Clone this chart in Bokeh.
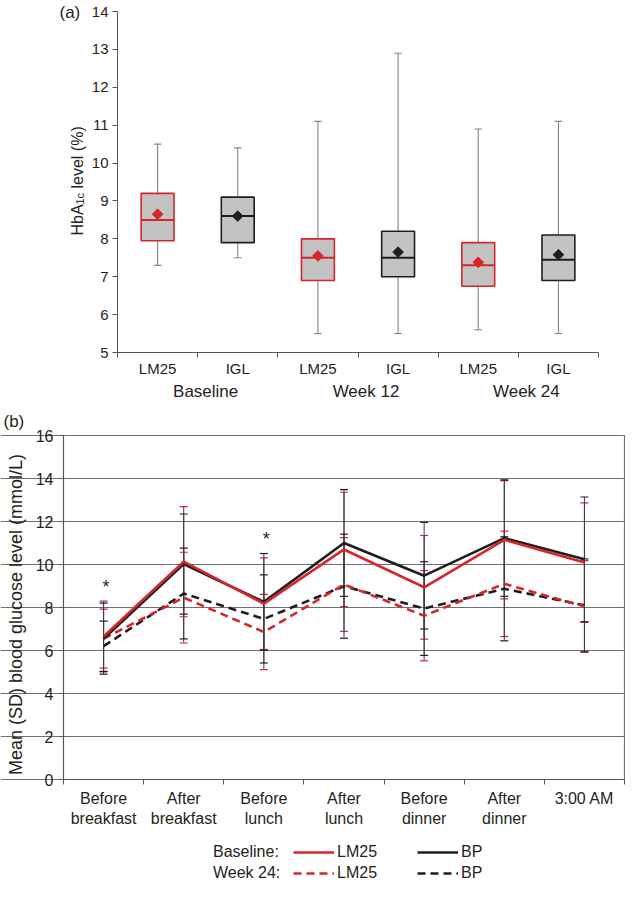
import numpy as np
from bokeh.plotting import figure
from bokeh.models import (FixedTicker, LinearAxis, Range1d, Legend, LegendItem,
                          Whisker, ColumnDataSource, TeeHead, Grid)
from bokeh.embed import file_html
from bokeh.resources import INLINE
from bokeh.core.properties import value

FONT = "Liberation Sans"
TXT = "#231f20"
RED = "#d7262b"
BLK = "#1e1e1e"
BOXFILL = "#c3c3c3"
AXC = "#555555"

# ---------------- Panel (a): HbA1c box plots ----------------
visits = ["Baseline", "Week 12", "Week 24"]
arms = ["LM25", "IGL"]
box_q1 = [7.95, 7.9, 6.9, 7.0, 6.75, 6.9]
box_median = [8.5, 8.6, 7.5, 7.5, 7.3, 7.45]
box_q3 = [9.2, 9.1, 8.0, 8.2, 7.9, 8.1]
box_min = [7.3, 7.5, 5.5, 5.5, 5.6, 5.5]
box_max = [10.5, 10.4, 11.1, 12.9, 10.9, 11.1]
box_mean = [8.65, 8.6, 7.55, 7.65, 7.38, 7.58]
hba_ticks = [5, 6, 7, 8, 9, 10, 11, 12, 13, 14]

# ---------------- Panel (b): 7-point glucose profile ----------------
timepoints = ["Before\nbreakfast", "After\nbreakfast", "Before\nlunch", "After\nlunch",
              "Before\ndinner", "After\ndinner", "3:00 AM"]
bl_lm25 = [6.65, 10.13, 8.18, 10.7, 8.94, 11.15, 10.09]
bl_lm25_sd = [1.65, 2.56, 2.13, 2.66, 2.41, 2.75, 2.78]
bl_bp = [6.55, 10.02, 8.26, 11.0, 9.48, 11.23, 10.24]
bl_bp_sd = [1.65, 2.33, 2.25, 2.48, 2.48, 2.71, 2.9]
w24_lm25 = [6.55, 8.46, 6.86, 9.07, 7.62, 9.1, 8.05]
w24_lm25_sd = [1.37, 2.11, 1.75, 2.18, 2.1, 2.45, 2.13]
w24_bp = [6.2, 8.65, 7.47, 8.99, 7.95, 8.87, 8.1]
w24_bp_sd = [1.17, 2.11, 2.05, 2.42, 2.18, 2.42, 2.16]
glu_ticks = [0, 2, 4, 6, 8, 10, 12, 14, 16]
sig_points = ["Before\nbreakfast", "Before\nlunch"]
sig_y = [8.95, 11.2]

W = 625

def style_axis(ax, size):
    ax.major_label_text_font = FONT
    ax.major_label_text_font_size = size
    ax.major_label_text_color = TXT

# ================= Figure A (frame = whole canvas, axes at fixed locations) =================
HA = 401
A_L, A_R, A_T, A_B = 117, 598, 11, 352
nb = len(box_q1)
A_CW = (A_R - A_L) / nb
A_UY = (A_B - A_T) / (hba_ticks[-1] - hba_ticks[0])

def ax_(px):
    return (px - A_L) / A_CW

def ay_(py):
    return hba_ticks[-1] - (py - A_T) / A_UY

pa = figure(width=W, height=HA, x_range=Range1d(ax_(0), ax_(W)), y_range=Range1d(ay_(HA), ay_(0)),
            x_axis_type=None, y_axis_type=None, output_backend="svg", toolbar_location=None,
            min_border=0)
pa.outline_line_color = None

ya = LinearAxis(ticker=FixedTicker(ticks=hba_ticks), fixed_location=0,
                bounds=(hba_ticks[0], hba_ticks[-1]))
ya.axis_line_color = AXC
ya.major_tick_line_color = AXC
ya.major_tick_out = 5
ya.major_tick_in = 0
ya.minor_tick_line_color = None
ya.major_label_standoff = 4
style_axis(ya, "15px")
pa.add_layout(ya, "left")

xa = [i + 0.5 for i in range(nb)]
a_labels = {}
for vi, v in enumerate(visits):
    for ai, a in enumerate(arms):
        a_labels[vi * 2 + ai + 0.5] = a
a_groups = {vi * 2 + 1.1: v for vi, v in enumerate(visits)}

xa_lab = LinearAxis(ticker=FixedTicker(ticks=list(a_labels.keys()),
                                       minor_ticks=list(range(nb + 1))),
                    major_label_overrides=a_labels, fixed_location=hba_ticks[0], bounds=(0, nb))
xa_lab.axis_line_color = AXC
xa_lab.major_tick_line_color = None
xa_lab.major_tick_out = 0
xa_lab.major_tick_in = 0
xa_lab.minor_tick_line_color = AXC
xa_lab.minor_tick_out = 5
xa_lab.minor_tick_in = 0
xa_lab.major_label_standoff = 2
style_axis(xa_lab, "15px")
pa.add_layout(xa_lab, "below")

xa_grp = LinearAxis(ticker=FixedTicker(ticks=list(a_groups.keys()), minor_ticks=[]),
                    major_label_overrides=a_groups, fixed_location=hba_ticks[0])
xa_grp.axis_line_color = None
xa_grp.major_tick_line_color = None
xa_grp.minor_tick_line_color = None
xa_grp.major_tick_out = 0
xa_grp.minor_tick_out = 0
xa_grp.major_label_standoff = 29
style_axis(xa_grp, "17px")
pa.add_layout(xa_grp, "below")

box_cols = [RED if i % 2 == 0 else BLK for i in range(nb)]
bw = 0.41
cw = 0.046
src_a = ColumnDataSource(dict(
    x=xa, q1=box_q1, q2=box_median, q3=box_q3, lo=box_min, hi=box_max, mean=box_mean,
    col=box_cols,
    xl=[x - bw / 2 for x in xa], xr=[x + bw / 2 for x in xa],
    cl=[x - cw for x in xa], cr=[x + cw for x in xa]))
WH = "#858585"
pa.segment(x0="x", y0="q3", x1="x", y1="hi", source=src_a, line_color=WH, line_width=1.1)
pa.segment(x0="x", y0="q1", x1="x", y1="lo", source=src_a, line_color=WH, line_width=1.1)
pa.segment(x0="cl", y0="hi", x1="cr", y1="hi", source=src_a, line_color=WH, line_width=1.1)
pa.segment(x0="cl", y0="lo", x1="cr", y1="lo", source=src_a, line_color=WH, line_width=1.1)
pa.vbar(x="x", width=bw, top="q3", bottom="q1", source=src_a, fill_color=BOXFILL,
        line_color="col", line_width=1.6)
pa.segment(x0="xl", y0="q2", x1="xr", y1="q2", source=src_a, line_color="col", line_width=2)
pa.scatter(x="x", y="mean", source=src_a, marker="square", angle=np.pi / 4, size=7.5,
           fill_color="col", line_color="col", line_width=1)

# panel tag and y-axis title (HbA1c with subscript)
pa.text(x=[ax_(59)], y=[ay_(12)], text=["(a)"], text_font=value(FONT), text_font_size="17px",
        text_color=TXT, text_align="left", text_baseline="middle")
yl_base, yl_start = 77, 235
pa.text(x=[ax_(yl_base), ax_(yl_base)], y=[ay_(yl_start), ay_(yl_start - 47)],
        text=["HbA", "level (%)"], angle=np.pi / 2, text_font=value(FONT),
        text_font_size="16px", text_color=TXT, text_align="left", text_baseline="alphabetic")
pa.text(x=[ax_(yl_base + 2.5)], y=[ay_(yl_start - 31)], text=["1c"], angle=np.pi / 2,
        text_font=value(FONT), text_font_size="11px", text_color=TXT,
        text_align="left", text_baseline="alphabetic")

# ================= Figure B =================
HB = 485
B_L, B_R, B_T, B_B = 63, 624, 34, 378
nt = len(timepoints)
B_CW = (B_R - B_L) / nt
B_UY = (B_B - B_T) / (glu_ticks[-1] - glu_ticks[0])

def bx_(px):
    return (px - B_L) / B_CW

def by_(py):
    return glu_ticks[-1] - (py - B_T) / B_UY

pb = figure(width=W, height=HB, x_range=Range1d(bx_(0), bx_(W)), y_range=Range1d(by_(HB), by_(0)),
            x_axis_type=None, y_axis_type=None, output_backend="svg", toolbar_location=None,
            min_border=0)
pb.outline_line_color = None

GRC = "#6f6f6f"
pb.add_layout(Grid(dimension=1, ticker=FixedTicker(ticks=glu_ticks), grid_line_color=GRC,
                   grid_line_width=1.2, bounds=(0, nt)))
pb.quad(left=[0], right=[nt], bottom=[glu_ticks[0]], top=[glu_ticks[-1]], fill_color=None,
        line_color=GRC, line_width=1.2)

yb = LinearAxis(ticker=FixedTicker(ticks=glu_ticks), fixed_location=0,
                bounds=(glu_ticks[0], glu_ticks[-1]))
yb.axis_line_color = AXC
yb.major_tick_line_color = AXC
yb.major_tick_out = 4
yb.major_tick_in = 0
yb.minor_tick_line_color = None
yb.major_label_standoff = 6
style_axis(yb, "16px")
pb.add_layout(yb, "left")

xb = [i + 0.5 for i in range(nt)]
xb_lab = LinearAxis(ticker=FixedTicker(ticks=xb, minor_ticks=list(range(nt + 1))),
                    major_label_overrides={x: t for x, t in zip(xb, timepoints)},
                    fixed_location=0, bounds=(0, nt))
xb_lab.axis_line_color = AXC
xb_lab.major_tick_line_color = None
xb_lab.major_tick_out = 0
xb_lab.major_tick_in = 0
xb_lab.minor_tick_line_color = AXC
xb_lab.minor_tick_out = 5
xb_lab.minor_tick_in = 0
xb_lab.major_label_standoff = 5
style_axis(xb_lab, "16px")
pb.add_layout(xb_lab, "below")

STEM = "#3c3c3c"
def add_err(means, sds, cap_col):
    s = ColumnDataSource(dict(x=xb, lo=[m - d for m, d in zip(means, sds)],
                              hi=[m + d for m, d in zip(means, sds)]))
    w = Whisker(source=s, base="x", upper="hi", lower="lo", dimension="height",
                line_color=STEM, line_width=1,
                upper_head=TeeHead(size=8, line_color=cap_col, line_width=1.2),
                lower_head=TeeHead(size=8, line_color=cap_col, line_width=1.2))
    pb.add_layout(w)

add_err(bl_lm25, bl_lm25_sd, RED)
add_err(w24_lm25, w24_lm25_sd, RED)
add_err(bl_bp, bl_bp_sd, BLK)
add_err(w24_bp, w24_bp_sd, BLK)

DASH = "8 5"
r_w24_bp = pb.line(xb, w24_bp, line_color=BLK, line_width=2.6, line_dash=DASH)
r_w24_lm = pb.line(xb, w24_lm25, line_color=RED, line_width=2.6, line_dash=DASH)
r_bl_bp = pb.line(xb, bl_bp, line_color=BLK, line_width=2.6)
r_bl_lm = pb.line(xb, bl_lm25, line_color=RED, line_width=2.6)
r_blank = pb.line(x=[], y=[], line_alpha=0)

sig_x = [timepoints.index(t) + 0.53 for t in sig_points]
pb.text(x=sig_x, y=sig_y, text=["*"] * len(sig_x), text_font=value(FONT),
        text_font_size="18px", text_color=TXT, text_align="center", text_baseline="middle")

pb.text(x=[bx_(3)], y=[by_(20)], text=["(b)"], text_font=value(FONT), text_font_size="17px",
        text_color=TXT, text_align="left", text_baseline="middle")
pb.text(x=[bx_(15)], y=[by_(213)], text=["Mean (SD) blood glucose level (mmol/L)"],
        angle=np.pi / 2, text_font=value(FONT), text_font_size="18px", text_color=TXT,
        text_align="center", text_baseline="middle")

legend = Legend(items=[LegendItem(label="Baseline:", renderers=[r_blank]),
                       LegendItem(label="LM25", renderers=[r_bl_lm]),
                       LegendItem(label="BP", renderers=[r_bl_bp]),
                       LegendItem(label="Week 24:", renderers=[r_blank]),
                       LegendItem(label="LM25", renderers=[r_w24_lm]),
                       LegendItem(label="BP", renderers=[r_w24_bp])],
                orientation="horizontal", ncols=3, location=(169, 3),
                glyph_width=41, glyph_height=16, label_standoff=3, spacing=1,
                label_width=79, label_height=20,
                padding=0, margin=0, border_line_color=None, background_fill_alpha=0,
                label_text_font=FONT, label_text_font_size="16px", label_text_color=TXT)
pb.add_layout(legend)

open("out.html", "w").write(file_html([pa, pb], INLINE))
